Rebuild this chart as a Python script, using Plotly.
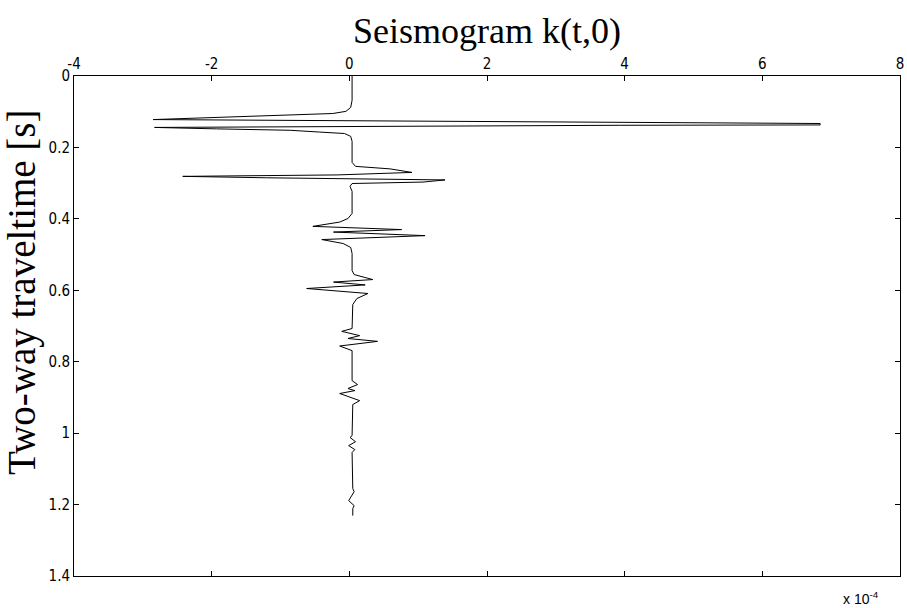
import plotly.graph_objects as go

# Two-way traveltime (s)
time_s = [0.000, 0.068, 0.088, 0.099, 0.105, 0.116, 0.122, 0.133, 0.137, 0.138,
          0.141, 0.144, 0.148, 0.152, 0.157, 0.161, 0.169, 0.183, 0.242, 0.253,
          0.260, 0.270, 0.277, 0.281, 0.285, 0.288, 0.291, 0.297, 0.301, 0.309,
          0.323, 0.385, 0.399, 0.409, 0.421, 0.430, 0.437, 0.447, 0.458, 0.469,
          0.480, 0.497, 0.545, 0.556, 0.570, 0.577, 0.585, 0.595, 0.609, 0.623,
          0.640, 0.707, 0.715, 0.727, 0.735, 0.743, 0.756, 0.769, 0.853, 0.864,
          0.875, 0.881, 0.889, 0.909, 0.920, 1.007, 1.012, 1.024, 1.035, 1.046,
          1.054, 1.155, 1.164, 1.189, 1.203, 1.211, 1.231]

# Seismogram amplitude k(t,0) in units of 1e-4
amplitude = [0.04, 0.04, 0.02, -0.05, -0.24, -1.88, -2.85, 6.84, 6.84, 3.93,
             0.01, -2.83, -1.93, -0.86, -0.43, -0.07, 0.02, 0.04, 0.04, 0.09,
             0.59, 0.91, -0.18, -2.42, -1.20, -0.04, 1.39, 1.07, 0.04, 0.01,
             0.04, 0.04, -0.02, -0.14, -0.53, 0.76, -0.23, 1.10, -0.40, -0.09,
             0.02, 0.04, 0.04, 0.07, 0.34, -0.23, 0.23, -0.62, 0.27, 0.11,
             0.05, 0.04, -0.11, 0.15, -0.02, 0.41, -0.14, 0.04, 0.04, 0.12,
             -0.02, 0.08, -0.14, 0.15, 0.05, 0.04, 0.01, 0.09, -0.01, 0.08,
             0.04, 0.05, 0.07, -0.01, 0.07, 0.05, 0.05]

x_ticks = [-4, -2, 0, 2, 4, 6, 8]
y_ticks = [0, 0.2, 0.4, 0.6, 0.8, 1, 1.2, 1.4]

title_text = "Seismogram k(t,0)"
ylabel_text = "Two-way traveltime [s]"
exp_text = "x 10<sup>-4</sup>"

serif = "Liberation Serif, Times New Roman, serif"
sans = "Liberation Sans Narrow, DejaVu Sans Condensed, Liberation Sans, Arial, sans-serif"

fig = go.Figure()
fig.add_trace(go.Scatter(x=amplitude, y=time_s, mode="lines",
                         line=dict(color="black", width=1), showlegend=False,
                         hoverinfo="skip"))

axis_common = dict(ticks="inside", ticklen=5, tickcolor="black", showline=True,
                   linecolor="black", linewidth=1, mirror="ticks", showgrid=False,
                   zeroline=False, automargin=False,
                   tickfont=dict(family=sans, size=15, color="black"))

fig.update_xaxes(range=[-4, 8], side="top", tickvals=x_ticks,
                 ticktext=[str(v) for v in x_ticks], **axis_common)
fig.update_yaxes(range=[1.4, 0], tickvals=y_ticks,
                 ticktext=[("%g" % v) for v in y_ticks], **axis_common)

fig.add_annotation(text=title_text, xref="paper", yref="paper", x=0.5, y=1.09,
                   xanchor="center", yanchor="middle", showarrow=False,
                   font=dict(family=serif, size=36, color="black"))
fig.add_annotation(text=ylabel_text, xref="paper", yref="paper", x=-0.063, y=0.568,
                   xanchor="center", yanchor="middle", showarrow=False, textangle=-90,
                   font=dict(family=serif, size=39, color="black"))
fig.add_annotation(text=exp_text, xref="paper", yref="paper", x=0.977, y=-0.044,
                   xanchor="right", yanchor="middle", showarrow=False,
                   font=dict(family="Liberation Sans, Arial, sans-serif", size=14, color="black"))

fig.update_layout(width=907, height=608, margin=dict(l=74, r=7, t=76, b=32),
                  paper_bgcolor="white", plot_bgcolor="white")

fig.write_html("out.html", config={"displayModeBar": False},
               post_script="document.body.style.margin='0';document.body.style.overflow='hidden';")
